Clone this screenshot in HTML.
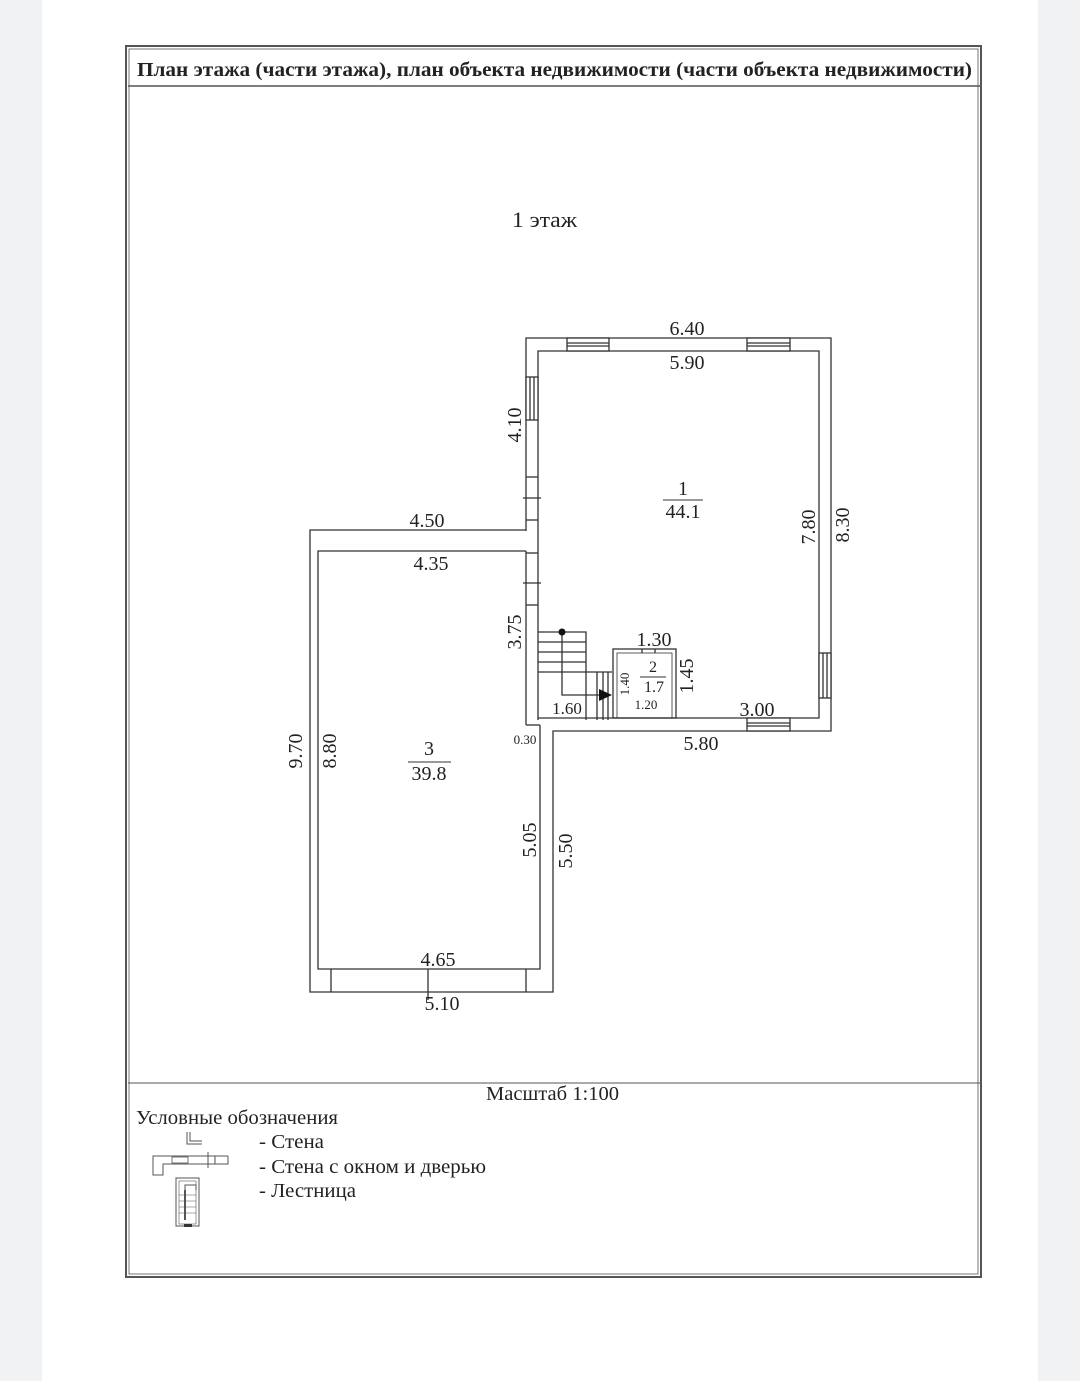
<!DOCTYPE html>
<html><head><meta charset="utf-8"><style>
html,body{margin:0;padding:0;background:#fff;}
body{width:1080px;height:1381px;position:relative;overflow:hidden;}
svg{position:absolute;left:0;top:0;}
text{font-family:"Liberation Serif",serif;fill:#222;}
</style></head><body>
<svg width="1080" height="1381" viewBox="0 0 1080 1381">
<rect x="0" y="0" width="42" height="1381" fill="#f1f2f4"/>
<rect x="1038" y="0" width="42" height="1381" fill="#f1f2f4"/>
<g fill="none" stroke="#555" stroke-width="1.3">
<rect x="126" y="46" width="855" height="1231" stroke-width="2"/>
<rect x="129" y="49" width="849" height="1225" stroke-width="0.8"/>
<line x1="128" y1="86" x2="980" y2="86" stroke-width="1.6"/>
<line x1="128" y1="1083" x2="980" y2="1083" stroke-width="1"/>
</g>
<text x="137" y="76" font-size="20" font-weight="bold" textLength="835" lengthAdjust="spacingAndGlyphs">План  этажа (части этажа), план объекта недвижимости (части объекта недвижимости)</text>
<text x="512" y="227" font-size="22" textLength="65" lengthAdjust="spacingAndGlyphs">1 этаж</text>

<g fill="none" stroke="#333" stroke-width="1.3">
<polyline points="526,531 526,338 831,338 831,731 553,731 553,992 310,992 310,530 526,530"/>
<line x1="526" y1="551" x2="526" y2="725"/>
<line x1="526" y1="725" x2="540" y2="725"/>
<polyline points="538,720 538,351 819,351 819,718 538,718"/>
<polyline points="526,551 318,551 318,969 540,969 540,725"/>
<rect x="567" y="338" width="42" height="13" fill="#fff"/>
<line x1="567" y1="343" x2="609" y2="343"/><line x1="567" y1="346" x2="609" y2="346"/>
<rect x="747" y="338" width="43" height="13" fill="#fff"/>
<line x1="747" y1="343" x2="790" y2="343"/><line x1="747" y1="346" x2="790" y2="346"/>
<rect x="526" y="377" width="12" height="43" fill="#fff"/>
<line x1="530" y1="377" x2="530" y2="420"/><line x1="534" y1="377" x2="534" y2="420"/>
<line x1="526" y1="477" x2="538" y2="477"/><line x1="523" y1="498" x2="541" y2="498"/><line x1="526" y1="520" x2="538" y2="520"/>
<line x1="526" y1="553" x2="538" y2="553"/><line x1="523" y1="583" x2="541" y2="583"/><line x1="526" y1="605" x2="538" y2="605"/>
<line x1="538" y1="531" x2="538" y2="551" stroke-dasharray="3,2" stroke-width="0.8"/>
<rect x="819" y="653" width="12" height="45" fill="#fff"/>
<line x1="823" y1="653" x2="823" y2="698"/><line x1="827" y1="653" x2="827" y2="698"/>
<rect x="747" y="718" width="43" height="13" fill="#fff"/>
<line x1="747" y1="723" x2="790" y2="723"/><line x1="747" y1="726" x2="790" y2="726"/>
<line x1="331" y1="969" x2="331" y2="992"/><line x1="526" y1="969" x2="526" y2="992"/>
<line x1="428" y1="969" x2="428" y2="1000"/>
<polyline points="538,632 586,632 586,672"/>
<line x1="538" y1="642" x2="586" y2="642"/><line x1="538" y1="652" x2="586" y2="652"/><line x1="538" y1="662" x2="586" y2="662"/>
<line x1="538" y1="672" x2="612" y2="672"/>
<line x1="597" y1="672" x2="597" y2="720"/><line x1="603" y1="672" x2="603" y2="720"/><line x1="608" y1="672" x2="608" y2="720"/>
<line x1="586" y1="672" x2="586" y2="720"/>
<polyline points="562,632 562,695 600,695"/>
<rect x="613" y="649" width="63" height="69"/>
<rect x="617" y="653" width="55" height="65" stroke-width="0.8"/>
<line x1="642" y1="649" x2="642" y2="653"/><line x1="655" y1="649" x2="655" y2="653"/>
<line x1="640" y1="677" x2="666" y2="677" stroke-width="1"/>
<line x1="663" y1="500" x2="703" y2="500" stroke-width="1"/>
<line x1="408" y1="762" x2="451" y2="762" stroke-width="1"/>
</g>
<circle cx="562" cy="632" r="3.5" fill="#111"/>
<polygon points="599,689 612,695 599,701" fill="#111"/>

<g font-size="20" text-anchor="middle">
<text x="687" y="335">6.40</text>
<text x="687" y="369">5.90</text>
<text x="427" y="527">4.50</text>
<text x="431" y="570">4.35</text>
<text x="683" y="495">1</text>
<text x="683" y="518">44.1</text>
<text x="429" y="755">3</text>
<text x="429" y="780">39.8</text>
<text x="654" y="646">1.30</text>
<text x="653" y="672" font-size="16">2</text>
<text x="654" y="692" font-size="16">1.7</text>
<text x="567" y="714" font-size="17">1.60</text>
<text x="646" y="709" font-size="13">1.20</text>
<text x="757" y="716">3.00</text>
<text x="701" y="750">5.80</text>
<text x="438" y="966">4.65</text>
<text x="442" y="1010">5.10</text>
<text x="525" y="744" font-size="13">0.30</text>
<text transform="translate(521,425) rotate(-90)">4.10</text>
<text transform="translate(521,632) rotate(-90)">3.75</text>
<text transform="translate(815,527) rotate(-90)">7.80</text>
<text transform="translate(849,525) rotate(-90)">8.30</text>
<text transform="translate(693,676) rotate(-90)">1.45</text>
<text transform="translate(629,684) rotate(-90)" font-size="13">1.40</text>
<text transform="translate(302,751) rotate(-90)">9.70</text>
<text transform="translate(336,751) rotate(-90)">8.80</text>
<text transform="translate(536,840) rotate(-90)">5.05</text>
<text transform="translate(572,851) rotate(-90)">5.50</text>
</g>

<text x="486" y="1100" font-size="20" textLength="133" lengthAdjust="spacingAndGlyphs">Масштаб 1:100</text>
<text x="136" y="1124" font-size="20" textLength="202" lengthAdjust="spacingAndGlyphs">Условные обозначения</text>
<text x="259" y="1148" font-size="20" textLength="65" lengthAdjust="spacingAndGlyphs">- Стена</text>
<text x="259" y="1173" font-size="20" textLength="227" lengthAdjust="spacingAndGlyphs">- Стена с окном и дверью</text>
<text x="259" y="1197" font-size="20" textLength="97" lengthAdjust="spacingAndGlyphs">- Лестница</text>
<g fill="none" stroke="#555" stroke-width="1">
<polyline points="187,1132 187,1144 202,1144"/><polyline points="190,1132 190,1141 202,1141"/>
<polyline points="228,1156 153,1156 153,1175 163,1175 163,1164 228,1164 228,1156"/>
<rect x="172" y="1157" width="16" height="6" stroke-width="0.8"/>
<line x1="208" y1="1152" x2="208" y2="1168"/><line x1="215" y1="1156" x2="215" y2="1164"/>
<rect x="176" y="1178" width="23" height="48"/>
<rect x="179" y="1181" width="17" height="43" stroke-width="0.6"/>
<line x1="185" y1="1190" x2="185" y2="1220" stroke-width="2"/>
<polyline points="185,1190 185,1185 196,1185 196,1190"/>
<line x1="179" y1="1195" x2="196" y2="1195" stroke-width="0.5"/><line x1="179" y1="1201" x2="196" y2="1201" stroke-width="0.5"/><line x1="179" y1="1207" x2="196" y2="1207" stroke-width="0.5"/><line x1="179" y1="1213" x2="196" y2="1213" stroke-width="0.5"/>
</g>
<rect x="184" y="1224" width="8" height="3" fill="#333"/>
</svg>
</body></html>
